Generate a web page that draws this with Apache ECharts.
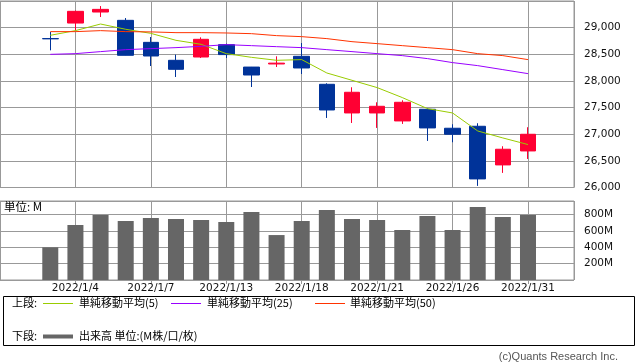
<!DOCTYPE html>
<html>
<head>
<meta charset="utf-8">
<script src="https://cdn.jsdelivr.net/npm/echarts@6/dist/echarts.min.js"></script>
<style>html,body{margin:0;padding:0;background:#fff}#c{width:638px;height:362px}</style>
</head>
<body>
<div id="c"></div>
<script>
// ---- data ----
const dates = ['2021/12/30','2022/1/4','2022/1/5','2022/1/6','2022/1/7','2022/1/11','2022/1/12','2022/1/13','2022/1/14','2022/1/17','2022/1/18','2022/1/19','2022/1/20','2022/1/21','2022/1/24','2022/1/25','2022/1/26','2022/1/27','2022/1/28','2022/1/31'];
const openP  = [28795,29086,29293,29137,28724,28387,28449,28681,28260,28318,28462,27937,27399,27399,27249,27468,27112,27149,26424,26686];
const closeP = [28790,29306,29343,28481,28468,28218,28781,28494,28111,28334,28243,27455,27787,27524,27599,27118,26999,26161,26718,26999];
const lowP   = [28574,28949,29199,28478,28280,28074,28430,28430,27886,28261,28130,27305,27211,27118,27193,26874,26849,26030,26274,26536];
const highP  = [28918,29320,29405,29180,28824,28494,28818,28700,28262,28462,28711,27956,27881,27599,27637,27487,27187,27206,26774,27131];
const ma5    = [28856,28944,29068,28969,28893,28762,28687,28512,28443,28387,28400,28149,28012,27875,27688,27481,27399,27061,26930,26806];
const ma25   = [28499,28512,28550,28587,28606,28625,28649,28681,28662,28643,28625,28587,28550,28512,28475,28419,28344,28287,28212,28137];
const ma50   = [28925,28925,28944,28925,28920,28906,28906,28900,28887,28850,28831,28794,28737,28700,28662,28625,28587,28512,28475,28400];
const volume = [399,672,794,720,757,745,733,708,830,549,720,855,745,733,611,781,611,891,769,794];
const priceTickStep = 500;   // 26,000 … 29,000
const volTickStep = 200;     // 200M … 800M
const dateTickStep = 3;      // 2022/1/4, 1/7, 1/13, …

// ---- build ----
const candle = dates.map((d,i) => [i, openP[i], closeP[i], lowP[i], highP[i]]);
const pts = arr => arr.map((v,i) => [i, v]);
const GRID = '#999';
const labelFont = {fontFamily:'DejaVu Sans', fontSize:10.5, color:'#111'};
const jp = '"Noto Sans CJK JP"';
const xMin = -2, xMax = 20.83;
const C5 = '#99cc00', C25 = '#9900ff', C50 = '#ff3300', CV = '#666666';
const names = ['単純移動平均(5)','単純移動平均(25)','単純移動平均(50)','出来高 単位:(M株/口/枚)'];
const split = {show:true, lineStyle:{color:GRID, width:1, type:'solid'}};
const dateFmt = v => (Math.abs(v - Math.round(v)) < 1e-6 && dates[Math.round(v)]) ? dates[Math.round(v)] : '';

const chart = echarts.init(document.getElementById('c'), null, {renderer:'canvas'});
chart.setOption({
  animation: false,
  grid: [
    {left: 0, top: 1, width: 574, height: 186.5, show: true, borderColor: GRID, borderWidth: 1, backgroundColor: 'transparent'},
    {left: 0, top: 201, width: 574, height: 79, show: true, borderColor: GRID, borderWidth: 1, backgroundColor: 'transparent'}
  ],
  xAxis: [
    {type:'value', gridIndex:0, min:xMin, max:xMax, interval:dateTickStep, axisLabel:{show:false}, axisTick:{show:false}, axisLine:{show:false}, splitLine:split},
    {type:'value', gridIndex:1, min:xMin, max:xMax, interval:dateTickStep, axisLine:{show:false}, splitLine:split,
     axisTick:{show:true, length:4, lineStyle:{color:GRID}},
     axisLabel:Object.assign({margin:3, showMinLabel:false, showMaxLabel:false, formatter: dateFmt}, labelFont)}
  ],
  yAxis: [
    {type:'value', gridIndex:0, position:'right', min:26000, max:29500, interval:priceTickStep, axisLine:{show:false}, splitLine:split,
     axisTick:{show:true, length:4, lineStyle:{color:GRID}},
     axisLabel:Object.assign({margin:10, showMaxLabel:false, formatter: v => v.toLocaleString('en-US')}, labelFont)},
    {type:'value', gridIndex:1, position:'right', min:0, max:965, interval:volTickStep, axisLine:{show:false}, splitLine:split,
     axisTick:{show:true, length:4, lineStyle:{color:GRID}},
     axisLabel:Object.assign({margin:10, showMinLabel:false, showMaxLabel:false, formatter: v => (v > 0 && v < 900) ? v + 'M' : ''}, labelFont)}
  ],
  series: [
    {type:'candlestick', name:'price', xAxisIndex:0, yAxisIndex:0, data:candle, encode:{x:0, y:[1,2,3,4]}, barWidth:16, z:5,
     itemStyle:{color:'#ff0033', color0:'#003399', borderColor:'#ff0033', borderColor0:'#003399', borderWidth:1}},
    {type:'line', name:names[0], xAxisIndex:0, yAxisIndex:0, data:pts(ma5), symbol:'none', z:6, lineStyle:{color:C5, width:1}, itemStyle:{color:C5}},
    {type:'line', name:names[1], xAxisIndex:0, yAxisIndex:0, data:pts(ma25), symbol:'none', z:6, lineStyle:{color:C25, width:1}, itemStyle:{color:C25}},
    {type:'line', name:names[2], xAxisIndex:0, yAxisIndex:0, data:pts(ma50), symbol:'none', z:6, lineStyle:{color:C50, width:1}, itemStyle:{color:C50}},
    {type:'bar', name:names[3], xAxisIndex:1, yAxisIndex:1, data:pts(volume), barWidth:16, z:5, itemStyle:{color:CV}}
  ]
});

// legend box and notes
const g = [];
const txt = (text, x, y, extra) => ({type:'text', z:10, silent:true, style:Object.assign({text, x, y, font:'11px ' + jp, fill:'#000', verticalAlign:'middle'}, extra || {})});
const seg = (x1, x2, y, c, w) => ({type:'line', z:10, silent:true, shape:{x1, y1:y, x2, y2:y}, style:{stroke:c, lineWidth:w}});
g.push({type:'rect', z:10, silent:true, shape:{x:3.5, y:296.5, width:631, height:49}, style:{fill:'none', stroke:'#000', lineWidth:1}});
g.push(txt('上段:', 12, 303));
g.push(seg(43, 73, 303.5, C5, 1), txt(names[0], 79, 303));
g.push(seg(171, 201, 303.5, C25, 1), txt(names[1], 207, 303));
g.push(seg(315, 345, 303.5, C50, 1), txt(names[2], 350, 303));
g.push(txt('下段:', 12, 336));
g.push(seg(43, 73, 336.5, CV, 4), txt(names[3], 79, 336));
g.push(txt('単位: M', 4, 207, {font:'11.5px ' + jp}));
g.push(txt('(c)Quants Research Inc.', 618, 357, {font:'11px "Liberation Sans"', fill:'#555', align:'right'}));
chart.setOption({graphic: g});
</script>
</body>
</html>
